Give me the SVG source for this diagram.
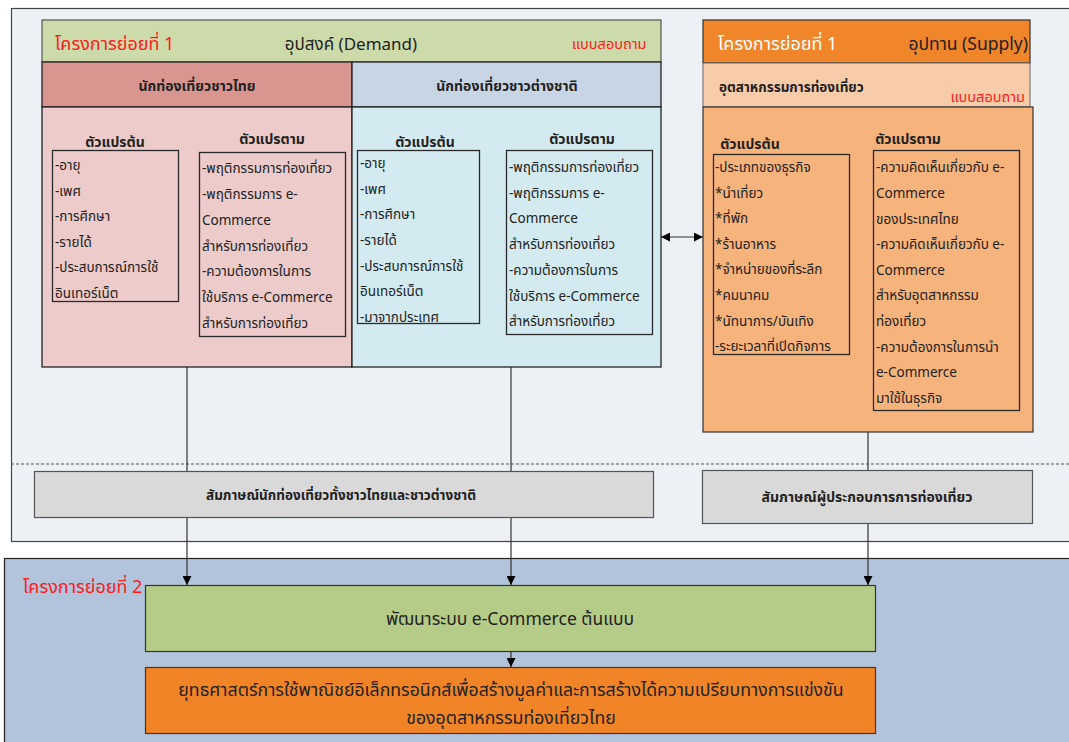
<svg xmlns="http://www.w3.org/2000/svg" width="1069" height="742" viewBox="0 0 1069 742">
<style>
text{font-family:"Noto Sans Thai","Noto Sans","DejaVu Sans",sans-serif;fill:#222}
.t{font-size:13.5px}
.b{font-size:14px;font-weight:bold}
.red{fill:#FF1A1A}
.box{fill:none;stroke:#2a2a2a;stroke-width:1.3}
.pn{stroke:#222;stroke-width:1.3}
.ln{stroke:#333;stroke-width:1.2;fill:none}
.c{text-anchor:middle}
</style>
<defs>
<marker id="ah" viewBox="0 0 10 10" refX="10" refY="5" markerWidth="10" markerHeight="9" markerUnits="userSpaceOnUse" orient="auto-start-reverse"><path d="M0,0L10,5L0,10z" fill="#000"/></marker>
</defs>
<rect width="1069" height="742" fill="#fff"/>
<g id="frame-top"><rect x="11.5" y="8.5" width="1080" height="533" fill="#EDF0F5" stroke="#444" stroke-width="1.2"/>
<line x1="11" y1="464" x2="1069" y2="464" stroke="#555" stroke-width="1" stroke-dasharray="3,2"/></g>
<g id="frame-bottom"><rect x="4.5" y="558.5" width="1080" height="200" fill="#B1C4DC" stroke="#222" stroke-width="1.2"/>
<text x="23" y="593" style="font-size:18px" class="red">โครงการย่อยที่ 2</text></g>

<g id="connectors">
<line class="ln" x1="187" y1="367" x2="187" y2="585" marker-end="url(#ah)"/>
<line class="ln" x1="511" y1="367" x2="511" y2="585" marker-end="url(#ah)"/>
<line class="ln" x1="868" y1="432" x2="868" y2="585" marker-end="url(#ah)"/>
<line class="ln" x1="511" y1="651" x2="511" y2="667" marker-end="url(#ah)"/>
<line class="ln" x1="179" y1="237" x2="199" y2="237" marker-end="url(#ah)"/>
<line class="ln" x1="480" y1="237" x2="505" y2="237" marker-end="url(#ah)"/>
<line class="ln" x1="849" y1="237" x2="873" y2="237" marker-end="url(#ah)"/>
<line class="ln" x1="661" y1="237" x2="703" y2="237" marker-start="url(#ah)" marker-end="url(#ah)"/>
</g>

<g id="demand-header"><rect x="42" y="20" width="619" height="42" fill="#CDDBAA" stroke="#555" stroke-width="1.2"/>
<text x="55" y="50" style="font-size:18px" class="red">โครงการย่อยที่ 1</text>
<text x="351" y="50" class="c" style="font-size:17px">อุปสงค์ (Demand)</text>
<text x="572" y="49" style="font-size:14.5px" class="red">แบบสอบถาม</text></g>

<g id="thai-tourists">
<rect x="42" y="62" width="310" height="45" fill="#D9958F" class="pn"/>
<text x="197" y="91" class="b c">นักท่องเที่ยวชาวไทย</text>
<rect x="42" y="107" width="310" height="260" fill="#ECCBCA" class="pn"/>
<text x="115" y="147" class="b c">ตัวแปรต้น</text>
<text x="272" y="144" class="b c">ตัวแปรตาม</text>
<rect x="52.5" y="150.5" width="126" height="151" class="box"/>
<text class="t" x="55" y="170">-อายุ</text>
<text class="t" x="55" y="195.5">-เพศ</text>
<text class="t" x="55" y="221">-การศึกษา</text>
<text class="t" x="55" y="246.5">-รายได้</text>
<text class="t" x="55" y="272">-ประสบการณ์การใช้</text>
<text class="t" x="55" y="297.5">อินเทอร์เน็ต</text>
<rect x="199.5" y="152.5" width="146" height="184" class="box"/>
<text class="t" x="202" y="173">-พฤติกรรมการท่องเที่ยว</text>
<text class="t" x="202" y="199">-พฤติกรรมการ e-</text>
<text class="t" x="202" y="225">Commerce</text>
<text class="t" x="202" y="250.5">สำหรับการท่องเที่ยว</text>
<text class="t" x="202" y="276">-ความต้องการในการ</text>
<text class="t" x="202" y="302">ใช้บริการ e-Commerce</text>
<text class="t" x="202" y="327.5">สำหรับการท่องเที่ยว</text>
</g>

<g id="foreign-tourists">
<rect x="352" y="62" width="309" height="45" fill="#C8D5E5" class="pn"/>
<text x="507" y="91" class="b c">นักท่องเที่ยวชาวต่างชาติ</text>
<rect x="352" y="107" width="309" height="260" fill="#D3EAF0" class="pn"/>
<text x="425" y="147" class="b c">ตัวแปรต้น</text>
<text x="582" y="144" class="b c">ตัวแปรตาม</text>
<rect x="357.5" y="150.5" width="122" height="173" class="box"/>
<text class="t" x="360" y="168">-อายุ</text>
<text class="t" x="360" y="193.5">-เพศ</text>
<text class="t" x="360" y="219">-การศึกษา</text>
<text class="t" x="360" y="245">-รายได้</text>
<text class="t" x="360" y="270.5">-ประสบการณ์การใช้</text>
<text class="t" x="360" y="296">อินเทอร์เน็ต</text>
<text class="t" x="360" y="321.5">-มาจากประเทศ</text>
<rect x="506.5" y="150.5" width="146" height="184" class="box"/>
<text class="t" x="509" y="172">-พฤติกรรมการท่องเที่ยว</text>
<text class="t" x="509" y="197.5">-พฤติกรรมการ e-</text>
<text class="t" x="509" y="223">Commerce</text>
<text class="t" x="509" y="249">สำหรับการท่องเที่ยว</text>
<text class="t" x="509" y="275">-ความต้องการในการ</text>
<text class="t" x="509" y="300.5">ใช้บริการ e-Commerce</text>
<text class="t" x="509" y="326">สำหรับการท่องเที่ยว</text>
</g>

<g id="supply">
<rect x="703" y="20" width="327" height="43" fill="#F0852A" stroke="#333" stroke-width="1.2"/>
<text x="718" y="50" style="font-size:18px;fill:#fff">โครงการย่อยที่ 1</text>
<text x="1028" y="50" style="font-size:17.5px;text-anchor:end">อุปทาน (Supply)</text>
<rect x="703" y="63" width="327" height="44" fill="#F9CCA9" stroke="#666" stroke-width="1"/>
<text x="719" y="92" style="font-size:13.5px;font-weight:bold">อุตสาหกรรมการท่องเที่ยว</text>
<text x="1025" y="102" style="font-size:14.5px;text-anchor:end" class="red">แบบสอบถาม</text>
<rect x="703" y="107" width="330" height="325" fill="#F7B37C" stroke="#333" stroke-width="1.2"/>
<text x="750" y="149" class="b c">ตัวแปรต้น</text>
<text x="908" y="144" class="b c">ตัวแปรตาม</text>
<rect x="713.5" y="154.5" width="136" height="200" class="box"/>
<text class="t" x="715" y="172">-ประเภทของธุรกิจ</text>
<text class="t" x="715" y="197.5">*นำเที่ยว</text>
<text class="t" x="715" y="223">*ที่พัก</text>
<text class="t" x="715" y="248.5">*ร้านอาหาร</text>
<text class="t" x="715" y="274">*จำหน่ายของที่ระลึก</text>
<text class="t" x="715" y="300">*คมนาคม</text>
<text class="t" x="715" y="325.5">*นัทนาการ/บันเทิง</text>
<text class="t" x="715" y="351">-ระยะเวลาที่เปิดกิจการ</text>
<rect x="873.5" y="150.5" width="146" height="260" class="box"/>
<text class="t" x="876" y="172">-ความคิดเห็นเกี่ยวกับ e-</text>
<text class="t" x="876" y="198">Commerce</text>
<text class="t" x="876" y="223.5">ของประเทศไทย</text>
<text class="t" x="876" y="249">-ความคิดเห็นเกี่ยวกับ e-</text>
<text class="t" x="876" y="274.5">Commerce</text>
<text class="t" x="876" y="300">สำหรับอุตสาหกรรม</text>
<text class="t" x="876" y="326">ท่องเที่ยว</text>
<text class="t" x="876" y="351.5">-ความต้องการในการนำ</text>
<text class="t" x="876" y="377">e-Commerce</text>
<text class="t" x="876" y="402.5">มาใช้ในธุรกิจ</text>
</g>

<g id="interview-tourists"><rect x="34.5" y="471.5" width="619" height="46" fill="#D9D9D9" stroke="#555" stroke-width="1.2"/>
<text x="341" y="500" class="c" style="font-size:13.5px;font-weight:bold">สัมภาษณ์นักท่องเที่ยวทั้งชาวไทยและชาวต่างชาติ</text></g>
<g id="interview-operators"><rect x="702.5" y="470.5" width="330" height="53" fill="#D9D9D9" stroke="#555" stroke-width="1.2"/>
<text x="867" y="502" class="b c">สัมภาษณ์ผู้ประกอบการการท่องเที่ยว</text></g>

<g id="prototype"><rect x="145.5" y="585.5" width="730" height="66" fill="#B5CB88" stroke="#333" stroke-width="1.2"/>
<text x="510" y="625" class="c" style="font-size:17.5px">พัฒนาระบบ e-Commerce ต้นแบบ</text></g>
<g id="strategy"><rect x="145.5" y="667.5" width="730" height="66" fill="#F08427" stroke="#5a3010" stroke-width="1.2"/>
<text x="511" y="696" class="c" style="font-size:17.7px">ยุทธศาสตร์การใช้พาณิชย์อิเล็กทรอนิกส์เพื่อสร้างมูลค่าและการสร้างได้ความเปรียบทางการแข่งขัน</text>
<text x="511" y="724" class="c" style="font-size:17.7px">ของอุตสาหกรรมท่องเที่ยวไทย</text></g>
</svg>
